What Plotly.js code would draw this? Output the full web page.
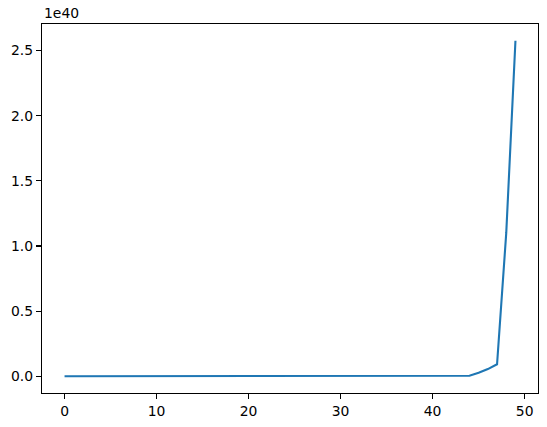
<!DOCTYPE html>
<html>
<head>
<meta charset="utf-8">
<script src="https://cdn.plot.ly/plotly-3.0.1.min.js"></script>
<style>
  body { margin: 0; background: #fff; }
  #chart { width: 547px; height: 427px; }
</style>
</head>
<body>
<div id="chart"></div>
<script>
// values (scale 1e40)
var steps = [];
for (var i = 0; i < 50; i++) steps.push(i);

var values = [
  0, 0, 0, 0, 0, 0, 0, 0, 0, 0,
  0, 0, 0, 0, 0, 0, 0, 0, 0, 0,
  0, 0, 0, 0, 0, 0, 0, 0, 1e33, 2e33,
  4e33, 8e33, 1.5e34, 3e34, 6e34, 1.2e35, 2.5e35, 5e35, 1e36, 2e36,
  3e36, 5e36, 9e36, 1.5e37, 4e37, 2.6e38, 5.5e38, 9.2e38, 1.1e40, 2.575e40
];

var yTickVals = [0, 0.5e40, 1.0e40, 1.5e40, 2.0e40, 2.5e40];
var yTickText = ['0.0', '0.5', '1.0', '1.5', '2.0', '2.5'];
var xTickVals = [0, 10, 20, 30, 40, 50];

var yMax = Math.max.apply(null, values);
var yPad = yMax * 0.05;

var trace = {
  x: steps,
  y: values,
  type: 'scatter',
  mode: 'lines',
  line: { color: '#1f77b4', width: 2.1 },
  hoverinfo: 'skip'
};

var axisStyle = {
  showgrid: false,
  zeroline: false,
  showline: true,
  mirror: true,
  linecolor: '#000',
  linewidth: 1.1,
  ticks: 'outside',
  ticklen: 5,
  tickwidth: 1.1,
  tickcolor: '#000',
  tickfont: { family: 'DejaVu Sans', size: 13.9, color: '#000' }
};

var layout = {
  width: 547,
  height: 427,
  margin: { l: 42, r: 9, t: 24, b: 34 },
  paper_bgcolor: '#fff',
  plot_bgcolor: '#fff',
  showlegend: false,
  xaxis: Object.assign({}, axisStyle, {
    range: [-2.45, 51.45],
    tickmode: 'array',
    tickvals: xTickVals
  }),
  yaxis: Object.assign({}, axisStyle, {
    range: [-yPad, yMax + yPad],
    tickmode: 'array',
    tickvals: yTickVals,
    ticktext: yTickText
  }),
  annotations: [{
    text: '1e40',
    xref: 'paper', yref: 'paper',
    x: 0, y: 1,
    xanchor: 'left', yanchor: 'bottom',
    yshift: 1,
    showarrow: false,
    font: { family: 'DejaVu Sans', size: 13.9, color: '#000' }
  }]
};

Plotly.newPlot('chart', [trace], layout, { staticPlot: true, displayModeBar: false });
</script>
</body>
</html>
